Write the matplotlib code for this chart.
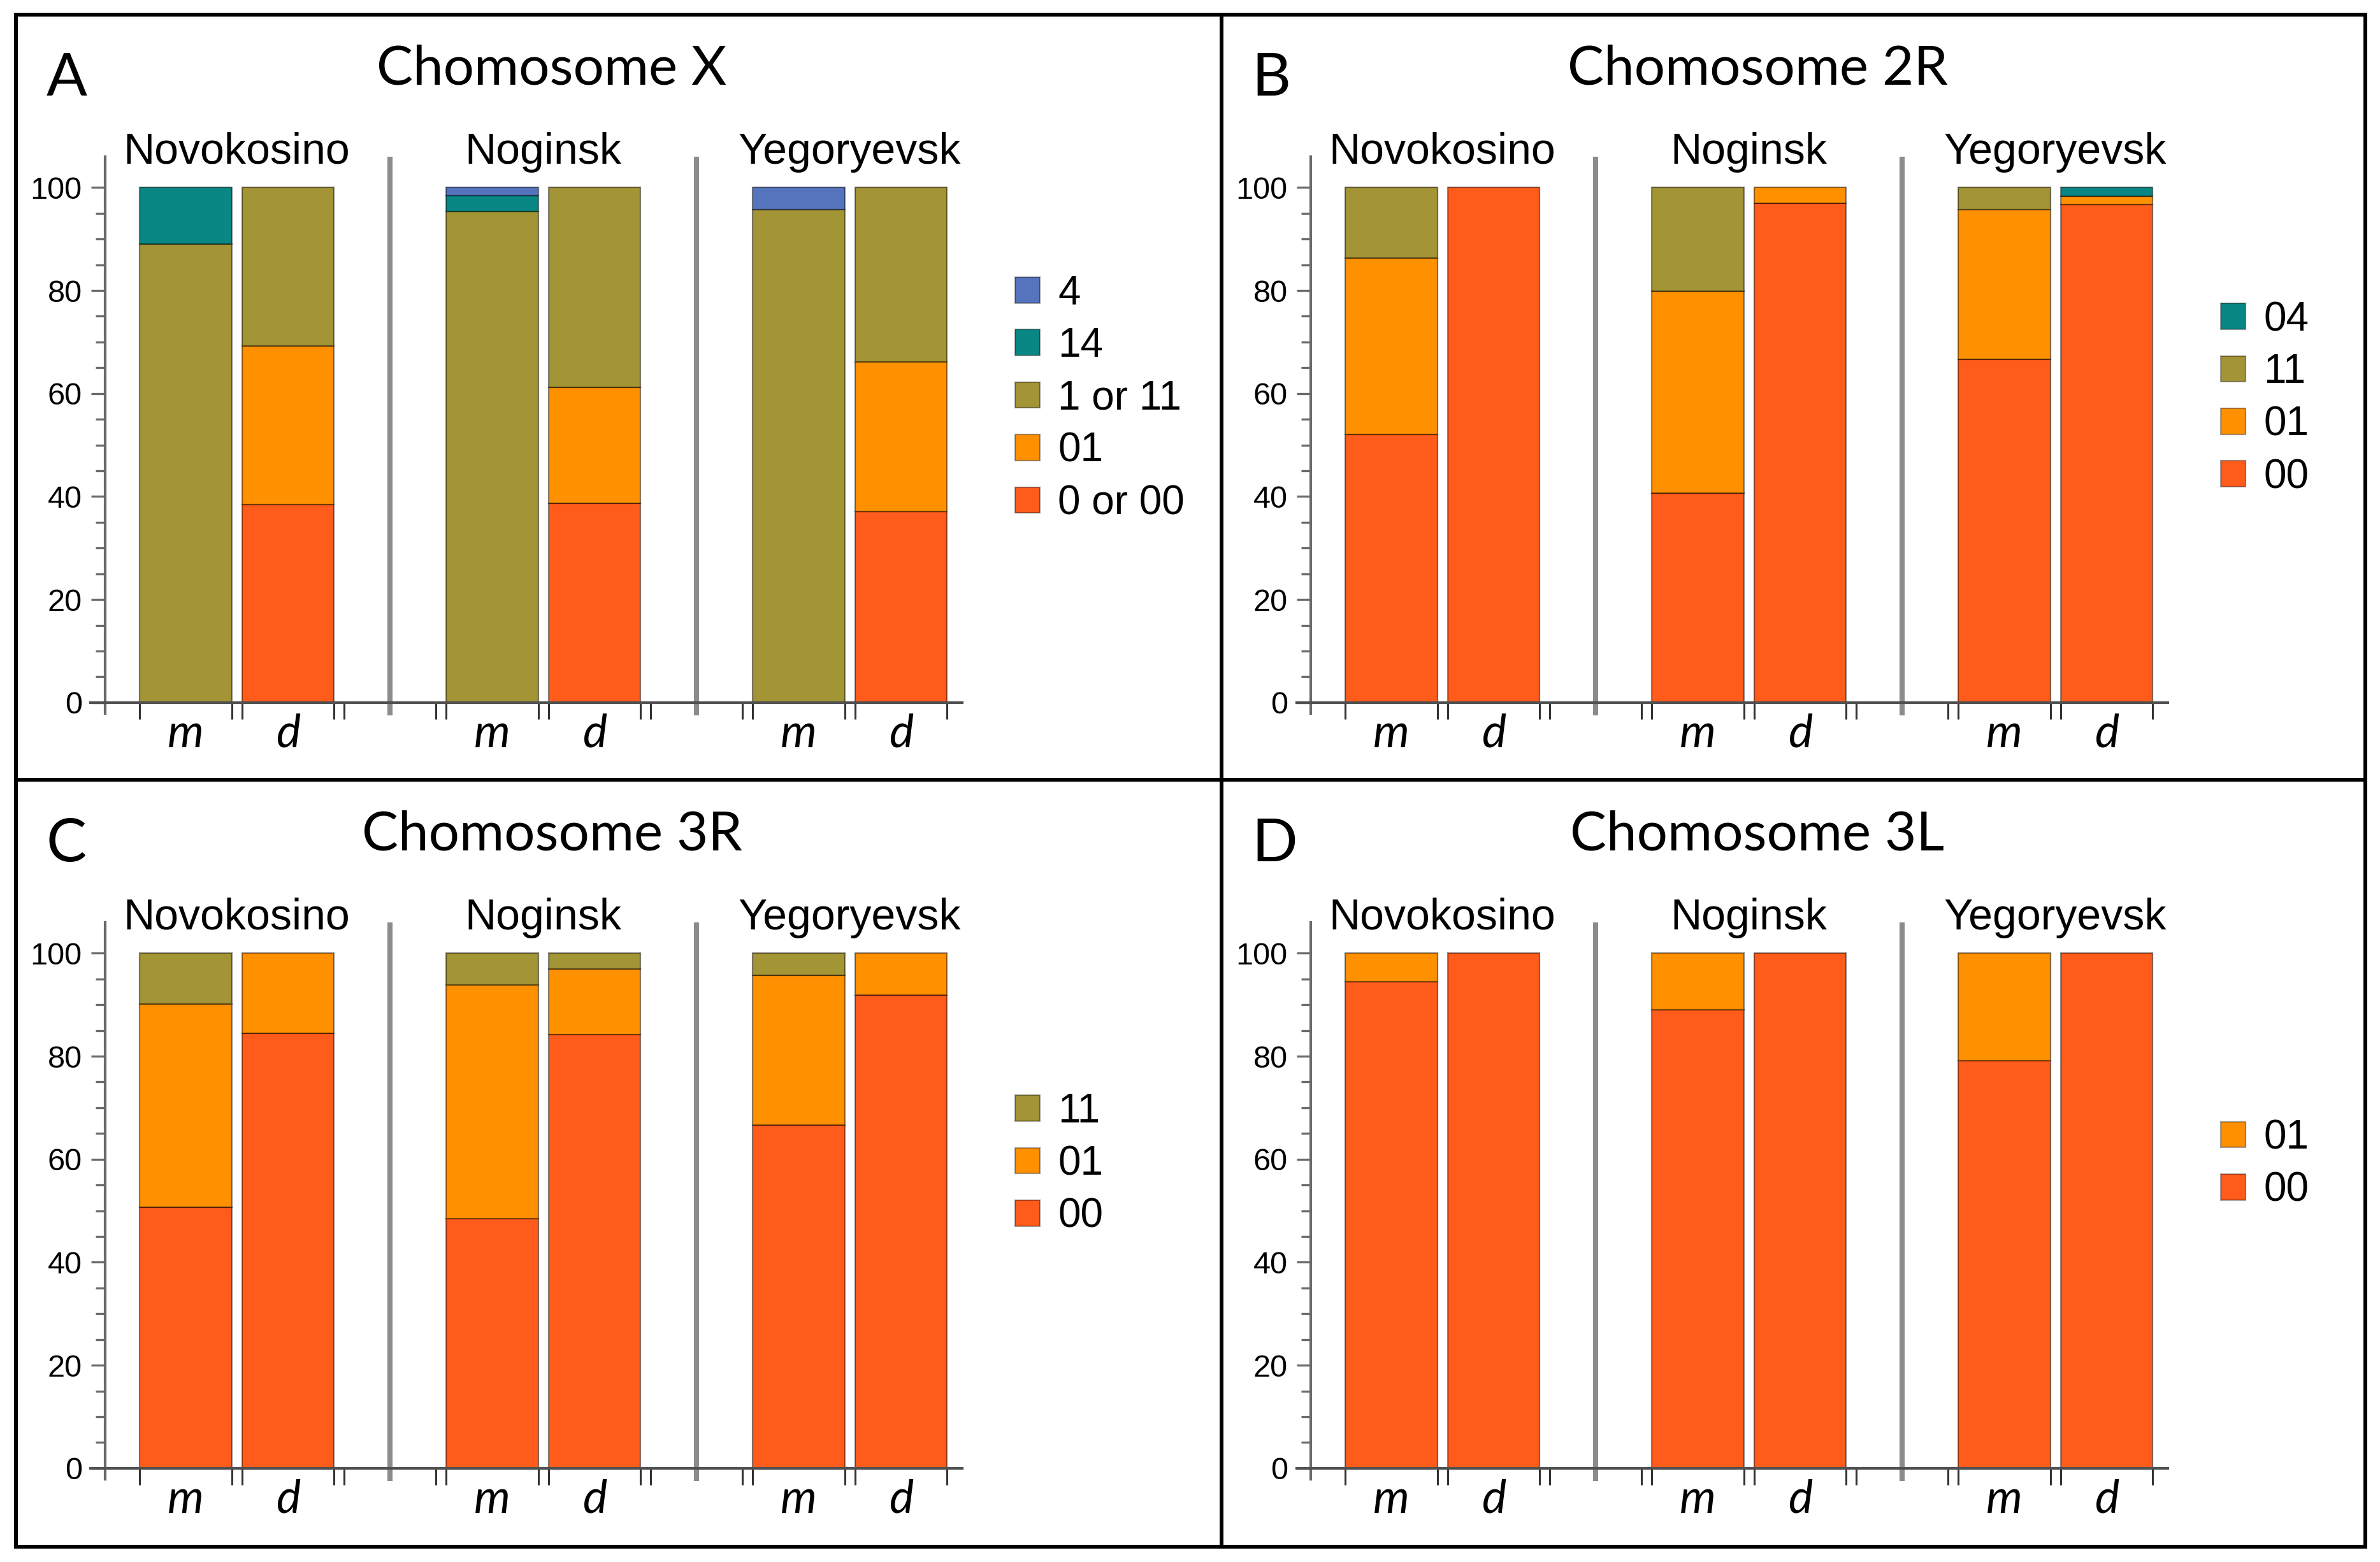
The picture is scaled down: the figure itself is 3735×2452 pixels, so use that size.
import numpy as np
import matplotlib
matplotlib.use("Agg")
import matplotlib.pyplot as plt
from matplotlib.lines import Line2D

# data (percent), bars in order: Novokosino m, d, Noginsk m, d, Yegoryevsk m, d
sites = ["Novokosino", "Noginsk", "Yegoryevsk"]
bar_labels = ["m", "d", "m", "d", "m", "d"]

# Chomosome X, bottom -> top
x_00 = [0, 38.4, 0, 38.7, 0, 37.1]
x_01 = [0, 30.9, 0, 22.5, 0, 29.0]
x_11 = [89.0, 30.7, 95.3, 38.8, 95.7, 33.9]
x_14 = [11.0, 0, 3.1, 0, 0, 0]
x_4 = [0, 0, 1.6, 0, 4.3, 0]

# Chomosome 2R
r2_00 = [52.0, 100, 40.7, 96.9, 66.7, 96.7]
r2_01 = [34.3, 0, 39.2, 3.1, 29.0, 1.6]
r2_11 = [13.7, 0, 20.1, 0, 4.3, 0]
r2_04 = [0, 0, 0, 0, 0, 1.7]

# Chomosome 3R
r3_00 = [50.7, 84.5, 48.4, 84.2, 66.6, 91.9]
r3_01 = [39.5, 15.5, 45.4, 12.7, 29.1, 8.1]
r3_11 = [9.8, 0, 6.2, 3.1, 4.3, 0]

# Chomosome 3L
l3_00 = [94.5, 100, 89.0, 100, 79.1, 100]
l3_01 = [5.5, 0, 11.0, 0, 20.9, 0]

RED = "#ff5c1c"
ORANGE = "#ff9100"
OLIVE = "#a39535"
TEAL = "#088784"
BLUE = "#5674be"

panels = [
    ("A", "Chomosome X", [("0 or 00", x_00, RED), ("01", x_01, ORANGE),
                          ("1 or 11", x_11, OLIVE), ("14", x_14, TEAL), ("4", x_4, BLUE)]),
    ("B", "Chomosome 2R", [("00", r2_00, RED), ("01", r2_01, ORANGE),
                           ("11", r2_11, OLIVE), ("04", r2_04, TEAL)]),
    ("C", "Chomosome 3R", [("00", r3_00, RED), ("01", r3_01, ORANGE), ("11", r3_11, OLIVE)]),
    ("D", "Chomosome 3L", [("00", l3_00, RED), ("01", l3_01, ORANGE)]),
]

W, H = 3735, 2452
fig = plt.figure(figsize=(W / 100, H / 100), dpi=100)

xpos = np.array([0, 1, 3, 4, 6, 7])
slots = np.arange(8)  # incl. empty slots under the dividers
edges = np.sort(np.concatenate([slots - 0.45, slots + 0.45]))
dividers = [2, 5]
width = 0.9

TITLE_FONT = "Lato"
SANS = "Liberation Sans"
AX_GRAY = "#6b6b6b"

# pixel layout
ax_left_px = 142.5
ax_w_px = 1367.4
ax_top_px = 245.8
ax_h_px = 877.2
dx_px = 1892
dy_px = 1202

for i, (letter, title, layers) in enumerate(panels):
    col, row = i % 2, i // 2
    ox, oy = col * dx_px, row * dy_px
    ax = fig.add_axes([(ax_left_px + ox) / W, 1 - (ax_top_px + oy + ax_h_px) / H,
                       ax_w_px / W, ax_h_px / H])

    bottom = np.zeros(len(xpos))
    handles = []
    for name, vals, color in layers:
        vals = np.array(vals, dtype=float)
        h = np.where(vals > 0, vals, np.nan)
        ax.bar(xpos, h, width=width, bottom=bottom, color=color,
               edgecolor=(0, 0, 0, 0.45), linewidth=1.6, zorder=2)
        bottom = bottom + vals
        handles.append(plt.Rectangle((0, 0), 1, 1, facecolor=color,
                                     edgecolor=(0, 0, 0, 0.35), linewidth=1.6))

    ax.set_xlim(-0.93, 7.6)
    ax.set_ylim(-2.5, 106)

    for s in ["top", "right"]:
        ax.spines[s].set_visible(False)
    ax.spines["left"].set_position(("data", -0.79))
    ax.spines["left"].set_bounds(-2.1, 106)
    ax.spines["left"].set_color(AX_GRAY)
    ax.spines["left"].set_linewidth(3.0)
    ax.spines["bottom"].set_position(("data", 0))
    ax.spines["bottom"].set_color("#505050")
    ax.spines["bottom"].set_linewidth(3.0)
    ax.spines["bottom"].set_zorder(3)

    ax.set_yticks(np.arange(0, 101, 20))
    ax.set_yticks(np.arange(0, 101, 5), minor=True)
    ax.tick_params(axis="y", which="major", length=16, width=2.4, color=AX_GRAY,
                   pad=10, labelsize=35)
    ax.tick_params(axis="y", which="minor", length=11, width=2.4, color=AX_GRAY)
    for lab in ax.get_yticklabels():
        lab.set_fontfamily(SANS)

    ax.set_xticks(xpos)
    ax.set_xticklabels(bar_labels)
    ax.set_xticks(edges, minor=True)
    ax.tick_params(axis="x", which="major", length=0, pad=50.5)
    ax.tick_params(axis="x", which="minor", length=19, width=2.2, color="#333333")
    for lab in ax.get_xticklabels():
        lab.set_fontfamily(TITLE_FONT)
        lab.set_fontstyle("italic")
        lab.set_fontsize(52)
        lab.set_verticalalignment("baseline")

    for d in dividers:
        ax.plot([d, d], [-2.5, 106], color="#8c8c8c", linewidth=5.8,
                clip_on=False, zorder=1, solid_capstyle="butt")

    for k, site in enumerate(sites):
        ax.text(xpos[2 * k] + 0.5, 104.65, site, ha="center", va="baseline",
                fontsize=49, family=SANS, clip_on=False)

    ax.legend(handles[::-1], [l[0] for l in layers][::-1], loc="center left",
              bbox_to_anchor=(1.061, 0.567), frameon=False, borderpad=0,
              borderaxespad=0, handlelength=0.6, handleheight=0.6,
              handletextpad=0.45, labelspacing=0.35,
              prop={"family": SANS, "size": 46})

    # panel letter and title
    fig.text((72.7 + ox) / W, 1 - (150 + oy) / H, letter, ha="left", va="baseline",
             fontsize=68, family=TITLE_FONT)
    fig.text((866 + ox) / W, 1 - (132.7 + oy) / H, title, ha="center", va="baseline",
             fontsize=61.5, family=TITLE_FONT)

# frame lines around the four panels
L, T, R, B = 25, 22.5, 3712, 2428
MX, MY = 1917, 1224
frame = [([L, R], [T, T]), ([L, R], [B, B]), ([L, L], [T, B]), ([R, R], [T, B]),
         ([MX, MX], [T, B]), ([L, R], [MY, MY])]
for xs, ys in frame:
    fig.add_artist(Line2D([x / W for x in xs], [1 - y / H for y in ys],
                          color="black", linewidth=4.3, solid_capstyle="projecting"))

fig.savefig("out.png", dpi=100, facecolor="white")
